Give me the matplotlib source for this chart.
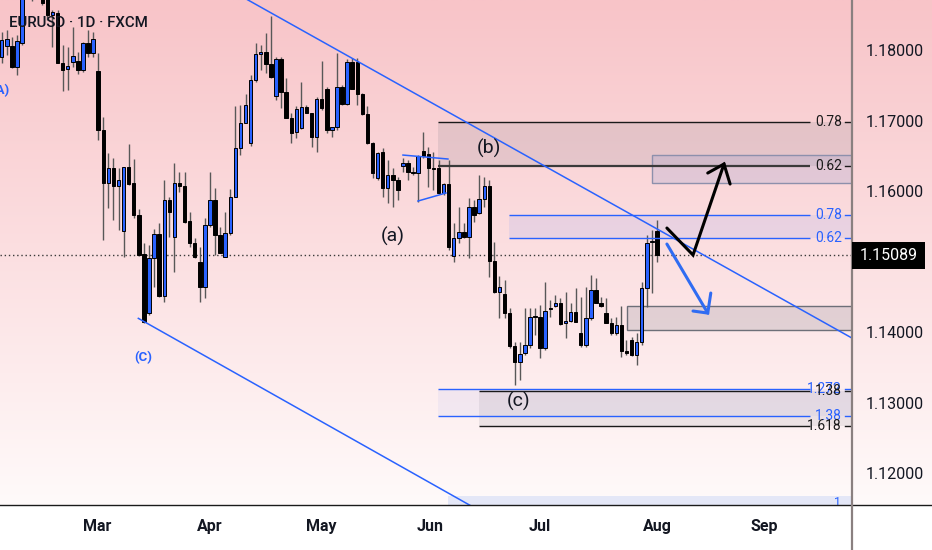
import matplotlib
matplotlib.use("Agg")
import matplotlib.pyplot as plt
import numpy as np
from matplotlib.patches import Rectangle
from matplotlib.lines import Line2D

plt.rcParams['font.family'] = ['Roboto', 'DejaVu Sans']

# ---------------- data ----------------
opens = [1.1790, 1.1806, 1.1806, 1.1776, 1.1810, 1.1878, 1.1892, 1.1876, 1.1890, 1.1885,
         1.1850, 1.1853, 1.1782, 1.1773, 1.1783, 1.1784, 1.1772, 1.1810, 1.1796, 1.1770,
         1.1687, 1.1611, 1.1633, 1.1607, 1.1543, 1.1634, 1.1611, 1.1566, 1.1511, 1.1427,
         1.1505, 1.1539, 1.1451, 1.1587, 1.1535, 1.1611, 1.1607, 1.1558, 1.1526, 1.1499,
         1.1464, 1.1552, 1.1587, 1.1538, 1.1506, 1.1540, 1.1592, 1.1661, 1.1697, 1.1668,
         1.1758, 1.1794, 1.1797, 1.1780, 1.1735, 1.1787, 1.1740, 1.1704, 1.1684, 1.1689,
         1.1719, 1.1711, 1.1677, 1.1731, 1.1745, 1.1687, 1.1691, 1.1748, 1.1724, 1.1783,
         1.1783, 1.1738, 1.1709, 1.1668, 1.1618, 1.1655, 1.1604, 1.1623, 1.1616, 1.1635,
         1.1640, 1.1627, 1.1626, 1.1657, 1.1653, 1.1633, 1.1633, 1.1597, 1.1610, 1.1508,
         1.1533, 1.1542, 1.1535, 1.1577, 1.1569, 1.1589, 1.1607, 1.1501, 1.1457, 1.1454,
         1.1427, 1.1380, 1.1357, 1.1370, 1.1382, 1.1423, 1.1421, 1.1377, 1.1434, 1.1437,
         1.1441, 1.1413, 1.1416, 1.1428, 1.1399, 1.1382, 1.1420, 1.1460, 1.1441, 1.1427,
         1.1413, 1.1399, 1.1410, 1.1373, 1.1389, 1.1367, 1.1386, 1.1462, 1.1527, 1.1543]
highs = [1.1826, 1.1828, 1.1819, 1.1821, 1.1888, 1.1900, 1.1898, 1.1902, 1.1896, 1.1892,
         1.1857, 1.1857, 1.1807, 1.1804, 1.1833, 1.1797, 1.1811, 1.1828, 1.1826, 1.1796,
         1.1705, 1.1654, 1.1647, 1.1633, 1.1634, 1.1667, 1.1645, 1.1575, 1.1526, 1.1524,
         1.1546, 1.1555, 1.1616, 1.1592, 1.1640, 1.1627, 1.1627, 1.1570, 1.1533, 1.1521,
         1.1562, 1.1627, 1.1604, 1.1549, 1.1570, 1.1603, 1.1721, 1.1722, 1.1738, 1.1765,
         1.1810, 1.1807, 1.1824, 1.1848, 1.1790, 1.1790, 1.1760, 1.1711, 1.1721, 1.1755,
         1.1722, 1.1711, 1.1733, 1.1784, 1.1748, 1.1691, 1.1796, 1.1750, 1.1787, 1.1789,
         1.1789, 1.1739, 1.1721, 1.1670, 1.1655, 1.1661, 1.1644, 1.1633, 1.1620, 1.1647,
         1.1644, 1.1634, 1.1651, 1.1684, 1.1662, 1.1655, 1.1644, 1.1611, 1.1644, 1.1555,
         1.1577, 1.1555, 1.1590, 1.1587, 1.1623, 1.1620, 1.1616, 1.1528, 1.1480, 1.1474,
         1.1434, 1.1386, 1.1386, 1.1434, 1.1434, 1.1434, 1.1438, 1.1471, 1.1445, 1.1453,
         1.1448, 1.1457, 1.1441, 1.1462, 1.1450, 1.1464, 1.1481, 1.1477, 1.1450, 1.1448,
         1.1420, 1.1421, 1.1437, 1.1389, 1.1393, 1.1399, 1.1471, 1.1538, 1.1545, 1.1559]
lows = [1.1782, 1.1793, 1.1775, 1.1765, 1.1807, 1.1872, 1.1869, 1.1872, 1.1864, 1.1843,
        1.1804, 1.1782, 1.1742, 1.1743, 1.1776, 1.1766, 1.1769, 1.1790, 1.1790, 1.1672,
        1.1531, 1.1576, 1.1559, 1.1545, 1.1506, 1.1609, 1.1562, 1.1508, 1.1413, 1.1424,
        1.1464, 1.1450, 1.1443, 1.1535, 1.1485, 1.1599, 1.1555, 1.1521, 1.1505, 1.1443,
        1.1448, 1.1549, 1.1509, 1.1512, 1.1506, 1.1538, 1.1592, 1.1651, 1.1697, 1.1664,
        1.1755, 1.1772, 1.1767, 1.1760, 1.1729, 1.1718, 1.1704, 1.1668, 1.1675, 1.1688,
        1.1711, 1.1662, 1.1655, 1.1715, 1.1682, 1.1677, 1.1687, 1.1722, 1.1722, 1.1745,
        1.1722, 1.1708, 1.1667, 1.1618, 1.1616, 1.1592, 1.1583, 1.1577, 1.1587, 1.1627,
        1.1616, 1.1623, 1.1584, 1.1647, 1.1606, 1.1601, 1.1596, 1.1594, 1.1516, 1.1499,
        1.1526, 1.1533, 1.1505, 1.1556, 1.1567, 1.1577, 1.1478, 1.1455, 1.1420, 1.1420,
        1.1377, 1.1325, 1.1332, 1.1367, 1.1377, 1.1396, 1.1363, 1.1375, 1.1421, 1.1436,
        1.1410, 1.1392, 1.1414, 1.1414, 1.1379, 1.1379, 1.1417, 1.1441, 1.1436, 1.1413,
        1.1396, 1.1396, 1.1365, 1.1367, 1.1366, 1.1353, 1.1382, 1.1436, 1.1455, 1.1499]
closes = [1.1814, 1.1816, 1.1776, 1.1813, 1.1878, 1.1892, 1.1875, 1.1890, 1.1867, 1.1850,
          1.1854, 1.1782, 1.1772, 1.1777, 1.1792, 1.1772, 1.1810, 1.1796, 1.1816, 1.1687,
          1.1611, 1.1633, 1.1607, 1.1616, 1.1634, 1.1610, 1.1566, 1.1509, 1.1414, 1.1505,
          1.1539, 1.1451, 1.1587, 1.1570, 1.1611, 1.1607, 1.1556, 1.1526, 1.1506, 1.1464,
          1.1552, 1.1587, 1.1538, 1.1512, 1.1540, 1.1592, 1.1661, 1.1697, 1.1722, 1.1758,
          1.1794, 1.1797, 1.1780, 1.1762, 1.1787, 1.1740, 1.1704, 1.1682, 1.1716, 1.1719,
          1.1711, 1.1677, 1.1731, 1.1718, 1.1687, 1.1691, 1.1748, 1.1724, 1.1783, 1.1745,
          1.1738, 1.1709, 1.1668, 1.1626, 1.1654, 1.1604, 1.1623, 1.1616, 1.1601, 1.1640,
          1.1627, 1.1626, 1.1650, 1.1650, 1.1633, 1.1631, 1.1597, 1.1610, 1.1521, 1.1533,
          1.1542, 1.1535, 1.1577, 1.1566, 1.1589, 1.1607, 1.1501, 1.1457, 1.1464, 1.1427,
          1.1380, 1.1357, 1.1369, 1.1382, 1.1421, 1.1421, 1.1377, 1.1430, 1.1433, 1.1441,
          1.1411, 1.1416, 1.1428, 1.1414, 1.1382, 1.1420, 1.1460, 1.1441, 1.1437, 1.1413,
          1.1399, 1.1410, 1.1373, 1.1370, 1.1367, 1.1386, 1.1462, 1.1526, 1.1529, 1.15089]

month_labels = ["Mar", "Apr", "May", "Jun", "Jul", "Aug", "Sep"]
month_pos = [18.76, 41.0, 62.85, 84.3, 105.97, 129.0, 150.06]
price_ticks = [1.12, 1.13, 1.14, 1.16, 1.17, 1.18]
last_price = closes[-1]

# annotation geometry (bar index, price)
upper_trend = [(44.0, 1.1889), (168.0, 1.1389)]
lower_trend = [(26.9, 1.14194), (94.2, 1.11461)]
wedge_top = [(79.0, 1.16510), (87.85, 1.16454)]
wedge_bot = [(81.95, 1.15858), (87.46, 1.15972)]
black_fib_top = (85.9, 1.16979, 1.16354)       # start, 0.78, 0.62
blue_fib_mid = (99.9, 1.15659, 1.15333)        # start, 0.78, 0.62
blue_fib_low = (85.9, 1.13191, 1.12808)        # start, 1.272, 1.38
black_fib_low = (93.96, 1.13163, 1.12667)      # start, 1.38, 1.618
target_box = (128.0, 1.16510, 1.16113)
support_box = (123.1, 1.14369, 1.14028)
bottom_box = (87.9, 1.11674)
black_arrow = [(130.96, 1.15475), (136.1, 1.15092), (142.2, 1.16383)]
black_head = [(139.0, 1.16255), (142.2, 1.16383), (143.4, 1.16099)]
blue_arrow = [(130.96, 1.15248), (139.0, 1.14269)]
blue_head = [(136.1, 1.14298), (139.0, 1.14269), (139.6, 1.14553)]
line_end = 159.1
label_x = 165.4
right_x = 175.0

# ---------------- figure ----------------
W, H = 932, 550
fig = plt.figure(figsize=(W / 100, H / 100), dpi=100)

bg = fig.add_axes([0, 0, 1, 1], zorder=-10)
bg.set_axis_off()
top = np.array([248, 196, 200]) / 255
bot = np.array([255, 250, 250]) / 255
t = np.linspace(0, 1, 256)[:, None]
grad = top * (1 - t) + bot * t
img = np.repeat(grad[:, None, :], 2, axis=1)
bg.imshow(img, aspect='auto', extent=[0, 1, 45 / 550, 1], origin='upper')
bg.add_patch(Rectangle((0, 0), 1, 45 / 550, color='white'))
bg.set_xlim(0, 1)
bg.set_ylim(0, 1)

ax = fig.add_axes([0, 45 / 550, 852 / 932, 505 / 550])
ax.patch.set_alpha(0)
ax.set_xlim(-0.335, 167.4)
ax.set_ylim(1.11547, 1.18709)
for s in ax.spines.values():
    s.set_visible(False)

BLUE = '#2962ff'

# zones
def zone(x0, y0, y1, fc, ec='none', lw=0, z=1):
    ax.add_patch(Rectangle((x0, min(y0, y1)), right_x - x0, abs(y1 - y0),
                           fc=fc, ec=ec, lw=lw, zorder=z))

zone(black_fib_top[0], black_fib_top[1], black_fib_top[2], (0.47, 0.48, 0.53, 0.16))
zone(target_box[0], target_box[1], target_box[2], (0.55, 0.58, 0.80, 0.22), ec='#8d90ac', lw=1)
zone(blue_fib_mid[0], blue_fib_mid[1], blue_fib_mid[2], (0.60, 0.66, 0.95, 0.18))
zone(support_box[0], support_box[1], support_box[2], (0.47, 0.48, 0.53, 0.20), ec='#6d6f78', lw=1)
zone(blue_fib_low[0], blue_fib_low[1], blue_fib_low[2], (0.60, 0.66, 0.95, 0.10))
zone(black_fib_low[0], black_fib_low[1], black_fib_low[2], (0.47, 0.48, 0.53, 0.12))
zone(bottom_box[0], bottom_box[1], 1.10, (0.60, 0.70, 0.95, 0.25))

def hline(x0, y, color, lw=1):
    ax.plot([x0, line_end], [y, y], color=color, lw=lw, zorder=4, solid_capstyle='butt')

hline(black_fib_top[0], black_fib_top[1], '#1a1a1a')
hline(black_fib_top[0], black_fib_top[2], '#3a3a3a', 1.6)
hline(blue_fib_mid[0], blue_fib_mid[1], BLUE)
hline(blue_fib_mid[0], blue_fib_mid[2], BLUE)
hline(blue_fib_low[0], blue_fib_low[1], BLUE)
hline(blue_fib_low[0], blue_fib_low[2], BLUE)
hline(black_fib_low[0], black_fib_low[1], '#1a1a1a')
hline(black_fib_low[0], black_fib_low[2], '#1a1a1a')

def flabel(y, txt, color):
    ax.text(label_x, y, txt, ha='right', va='center', fontsize=10, color=color, zorder=6)
    ax.plot([166.0, 167.2], [y, y], color=color, lw=1, zorder=6)

flabel(black_fib_top[1], "0.78", '#1a1a1a')
flabel(black_fib_top[2], "0.62", '#1a1a1a')
flabel(blue_fib_mid[1], "0.78", BLUE)
flabel(blue_fib_mid[2], "0.62", BLUE)
flabel(blue_fib_low[1], "1.272", BLUE)
flabel(blue_fib_low[2], "1.38", BLUE)
flabel(black_fib_low[1], "1.38", '#1a1a1a')
flabel(black_fib_low[2], "1.618", '#1a1a1a')
ax.text(164.6, 1.11589, "1", ha='center', va='center', fontsize=9, color=BLUE, zorder=6)

# trend lines
for seg in (upper_trend, lower_trend, wedge_top, wedge_bot):
    xs, ys = zip(*seg)
    ax.plot(xs, ys, color=BLUE, lw=1.1, zorder=5)

# current price dotted line
ax.axhline(last_price, color='#3a3a3a', lw=1, ls=(0, (1, 2)), zorder=1.5)

# candles
for i, (o, h, l, c) in enumerate(zip(opens, highs, lows, closes)):
    ax.plot([i, i], [l, h], color='#585858', lw=1, zorder=2, solid_capstyle='butt')
    up = c >= o
    body = max(abs(c - o), 0.00012)
    ax.add_patch(Rectangle((i - 0.34, min(o, c)), 0.68, body,
                           fc=BLUE if up else '#000000', ec='#000000', lw=0.7, zorder=3))

# arrows
for pts, col in ((black_arrow, '#000000'), (black_head, '#000000'),
                 (blue_arrow, '#2f6cf2'), (blue_head, '#2f6cf2')):
    xs, ys = zip(*pts)
    ax.plot(xs, ys, color=col, lw=2.2, zorder=7, solid_capstyle='round', solid_joinstyle='miter')

# wave labels
ax.text(95.9, 1.1661, "(b)", ha='center', va='center', fontsize=14, color='#131722', zorder=6)
ax.text(77.0, 1.15362, "(a)", ha='center', va='center', fontsize=14, color='#131722', zorder=6)
ax.text(101.8, 1.13021, "(c)", ha='center', va='center', fontsize=14, color='#131722', zorder=6)
ax.text(27.8, 1.13645, "(C)", ha='center', va='center', fontsize=9.5, color=BLUE,
        fontweight='bold', zorder=6)
ax.text(1.44, 1.17432, "(A)", ha='right', va='center', fontsize=9.5, color=BLUE,
        fontweight='bold', zorder=6, clip_on=True)

# title
ax.text(9 / 852, 1 - 23 / 505, "EURUSD · 1D · FXCM", transform=ax.transAxes,
        ha='left', va='center', fontsize=10.8, color='#131722', fontweight='medium', zorder=8)

# axes ticks
ax.yaxis.tick_right()
ax.set_yticks(price_ticks)
ax.set_yticklabels([f"{p:.5f}" for p in price_ticks])
ax.tick_params(axis='y', length=0, pad=10, labelsize=11.5, labelcolor='#131722')
ax.set_xticks(month_pos)
ax.set_xticklabels(month_labels)
ax.tick_params(axis='x', length=0, pad=10, labelsize=11.5, labelcolor='#131722')
for lbl in ax.get_xticklabels():
    lbl.set_fontweight('semibold')

# frame lines
fig.add_artist(Line2D([0, 1], [45 / 550, 45 / 550], color='#1a1a1a', lw=1, transform=fig.transFigure))
fig.add_artist(Line2D([852 / 932, 852 / 932], [0, 1], color='#8a8080', lw=1.6, transform=fig.transFigure))

# current price tag
fig.add_artist(Rectangle((852 / 932, (550 - 269) / 550), 73 / 932, 27 / 550,
                         fc='#000000', ec='none', transform=fig.transFigure, zorder=10))
fig.text(860 / 932, (550 - 255.5) / 550, f"{last_price:.5f}", color='white', fontsize=11.5,
         ha='left', va='center', zorder=11)

fig.savefig("out.png", dpi=100)
